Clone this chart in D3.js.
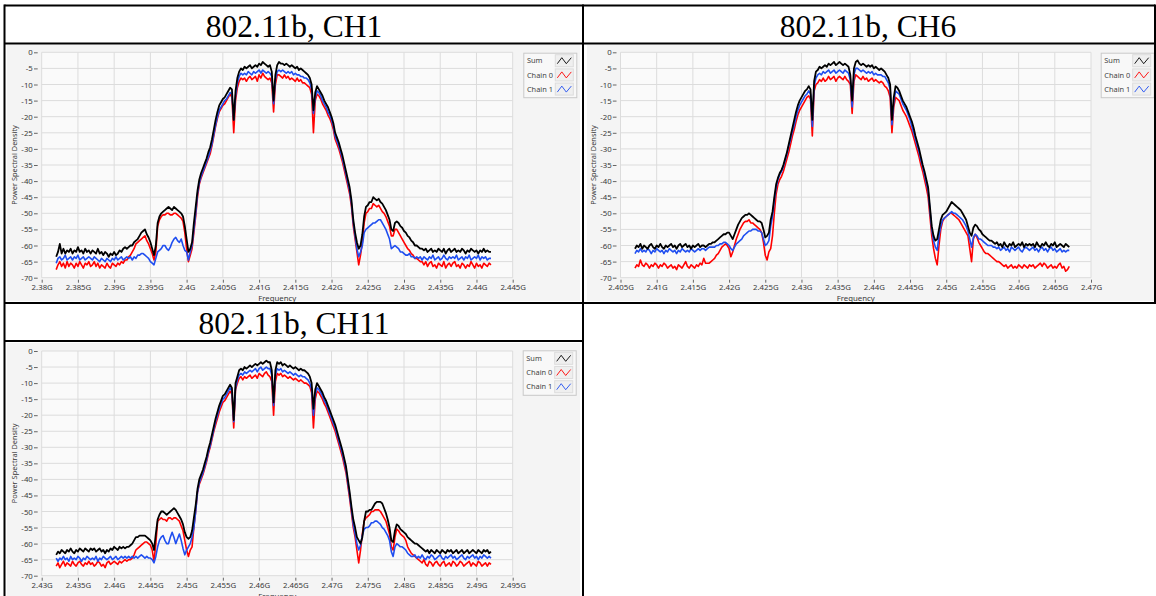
<!DOCTYPE html>
<html>
<head>
<meta charset="utf-8">
<script src="https://cdn.jsdelivr.net/npm/d3@7"></script>
<style>
  html, body { margin: 0; padding: 0; background: #ffffff; }
  svg { display: block; }
</style>
</head>
<body>
<svg id="page" width="1156" height="596"></svg>
<script>
// ---------------------------------------------------------------
// Spectrum sweeps of 802.11b transmissions on channels 1, 6 and 11.
// Each sweep is sampled on a 0.25 MHz bin grid starting at the
// frequency listed in sweepStartMHz; values are PSD in dB.
// ---------------------------------------------------------------
const titles = ["802.11b, CH1", "802.11b, CH6", "802.11b, CH11"];
const seriesNames = ["Sum", "Chain 0", "Chain 1"];
const seriesColors = ["#000000", "#ff0000", "#1f4ef0"];
const yTicks = [0, -5, -10, -15, -20, -25, -30, -35, -40, -45, -50, -55, -60, -65, -70];
const ch1FreqTicks = [2.380, 2.385, 2.390, 2.395, 2.400, 2.405, 2.410, 2.415, 2.420, 2.425, 2.430, 2.435, 2.440, 2.445];
const ch6FreqTicks = [2.405, 2.410, 2.415, 2.420, 2.425, 2.430, 2.435, 2.440, 2.445, 2.450, 2.455, 2.460, 2.465, 2.470];
const ch11FreqTicks = [2.430, 2.435, 2.440, 2.445, 2.450, 2.455, 2.460, 2.465, 2.470, 2.475, 2.480, 2.485, 2.490, 2.495];
const sweepStartMHz = [2382, 2407, 2432];
const binWidthMHz = 0.25;

const ch1Sum = [
-63.5,-62,-59.5,-62.5,-61,-62.5,-61.5,-62,-61,-62.5,-61.5,-62,-60.5,-62,-61.5,-62.5,-61,-62,-61.5,-62.5,
-61.5,-62,-62.5,-61,-62.5,-62,-63,-62,-62.5,-63.5,-62.5,-63,-62,-63,-62.5,-61.5,-62,-61,-60.5,-61,
-60.5,-60,-60,-59,-58.5,-58,-57,-56,-55.5,-55,-56.5,-57.5,-59,-61,-63,-60,-53,-51,-50,-49.5,
-49,-48.5,-48,-48.5,-49,-48,-48.5,-49,-49.5,-50,-51,-54,-58,-62,-61,-59,-53,-48,-43,-39.5,
-37.5,-36,-34.5,-33,-31,-29.5,-27,-24,-21,-18.5,-16.5,-15.5,-14.5,-14,-13,-12,-11,-11.5,-21,-12,
-8,-6,-5,-5.5,-4.5,-5,-4.5,-4,-5,-4.5,-4,-4.5,-3.5,-4,-3,-3.5,-4,-4.5,-4,-6,
-15,-7,-4,-3,-3.5,-3.5,-4,-3.5,-4,-4.5,-4,-4.5,-5,-4.5,-5.5,-5,-5.5,-6,-6.5,-7,
-8,-10,-18,-12.5,-10.5,-11.5,-12.5,-13.5,-15,-16,-17,-18.5,-20,-22,-25,-26.5,-28,-30,-32,-34.5,
-37,-39.5,-42,-46,-52,-56,-59,-61,-60,-56.5,-51,-48,-47.5,-46.5,-46.5,-45,-45.5,-46,-45.5,-46.5,
-47,-48,-49,-50.5,-52,-55,-55.5,-53,-52.5,-53,-54,-54.5,-55.5,-56,-57,-57.5,-58.5,-59,-60,-60,
-60.5,-61,-61,-61.5,-61,-62,-61.5,-61,-62,-61.5,-62,-61,-61.5,-62,-61,-62.5,-61.5,-61,-62,-61.5,
-61,-62,-61.5,-62,-61,-61.5,-62.5,-61.5,-62,-61,-61.5,-62,-61.5,-62.5,-61.5,-62,-61,-62,-61.5,-62,
-62];
const ch1Chain0 = [
-67.5,-66,-65,-66.5,-65.5,-67,-65,-66.5,-65.5,-66,-67,-65.5,-66.5,-65,-66,-67,-65.5,-66,-65,-66.5,
-66,-65,-66.5,-65.5,-67,-66,-66.5,-67,-65.5,-66.5,-67,-65.5,-66,-66.5,-65.5,-66,-65,-65.5,-64.5,-64.5,
-63.5,-63,-62,-61,-59.5,-59,-58.5,-58,-57.5,-57,-58.5,-59.5,-61,-62.5,-64.5,-62,-54,-52,-51,-50.5,
-50.5,-50,-50,-50.5,-50.5,-50,-50,-50.5,-51,-51.5,-52.5,-56,-61,-65,-63,-61,-56,-51,-45,-41,
-39,-37.5,-36,-34.5,-33,-31.5,-29,-26,-23,-20.5,-18.5,-17.5,-16.5,-16,-15,-14,-13,-14,-25,-15,
-11,-9,-8,-8.5,-8,-9,-8,-7.5,-8.5,-8,-7.5,-9,-7,-8,-6.5,-7.5,-8,-8.5,-8,-9.5,
-18.5,-10,-7,-7,-7.5,-8,-7,-8,-7.5,-8.5,-8,-8.5,-9,-8,-9,-8.5,-9.5,-9.5,-10,-10.5,
-11,-13,-25,-15,-13,-13.5,-14.5,-16,-17,-18,-19.5,-20.5,-22,-24,-27,-28.5,-30,-32,-34,-36.5,
-39,-41.5,-44,-48,-54,-58,-62,-66,-63,-59,-53,-50,-49.5,-48.5,-48.5,-47,-47.5,-48,-47.5,-48.5,
-49.5,-50,-51,-52.5,-54,-57,-57,-55,-55,-56,-57,-58,-59,-60,-61,-61.5,-62.5,-63,-64,-64,
-64.5,-65,-65,-66,-65,-66.5,-65.5,-65,-66.5,-66,-67,-65.5,-66,-66.5,-65,-67,-66,-65.5,-66.5,-65.5,
-65,-66.5,-66,-67,-65.5,-66,-67,-66,-66.5,-65,-66,-67,-65.5,-66.5,-66,-67,-65.5,-66,-66.5,-65.5,
-66];
const ch1Chain1 = [
-65.5,-64,-63.5,-64.5,-64,-63,-64.5,-64,-63.5,-64.5,-63.5,-64,-63,-64.5,-64,-63.5,-64.5,-64,-63.5,-64,
-64.5,-63.5,-64,-64.5,-65,-64,-64.5,-65,-64,-64.5,-65,-64,-64.5,-63.5,-64.5,-64,-63.5,-64.5,-64,-63.5,
-64,-63.5,-64.5,-63.5,-64,-63,-63,-62.5,-62.5,-63,-63.5,-64,-65,-65.5,-66,-64,-62,-61.5,-61,-60,
-60,-61,-61.5,-60.5,-59,-58,-57.5,-58.5,-59,-58,-60,-61.5,-62,-64.5,-62,-60,-55,-50,-44,-40.5,
-38.5,-37,-35.5,-34,-32.5,-30.5,-28.5,-25.5,-22.5,-20,-18,-17,-16,-15,-14.5,-13.5,-12.5,-13,-21,-13.5,
-9.5,-7.5,-6.5,-7,-6.5,-7,-6,-6.5,-7,-6,-6.5,-6,-5.5,-6.5,-5.5,-6,-6.5,-6,-6.5,-7.5,
-16,-8.5,-6,-5.5,-6,-5.5,-6,-6.5,-6,-6.5,-6,-7,-6.5,-7,-7,-7.5,-7.5,-8,-8,-8.5,
-9.5,-11.5,-19,-14,-12,-12.5,-13.5,-15,-16,-17,-18.5,-19.5,-21,-23,-26,-27.5,-29,-31,-33,-35.5,
-38,-40.5,-43,-47,-53,-57,-61,-63.5,-62,-60,-56,-55,-54.5,-54,-53.5,-53,-53,-52.5,-52,-52,
-53,-54,-55,-56.5,-58,-61,-60.5,-60,-60.5,-61,-62,-62,-62.5,-63,-63,-62.5,-63.5,-63.5,-64,-63.5,
-64,-63.5,-64.5,-63.5,-64,-64.5,-63.5,-64,-63,-64.5,-64,-63.5,-64.5,-64,-63,-64,-64.5,-63.5,-64,-63.5,
-64,-63,-64.5,-64,-63.5,-64.5,-63.5,-64,-63,-64.5,-64,-63.5,-64,-63,-64.5,-63.5,-64,-63.5,-64.5,-64,
-64];

const ch6Sum = [
-61,-60,-60.5,-59.5,-61,-60,-60.5,-61,-60,-59.5,-60.5,-61,-60,-60.5,-59.5,-60.5,-61,-60,-60.5,-60,
-59.5,-60.5,-60,-61,-60,-59.5,-60.5,-60,-59.5,-60.5,-60,-61,-60,-60.5,-60,-59.5,-60.5,-60,-60,-60.5,
-60,-59.5,-59.5,-59,-59,-58.5,-58,-57.5,-57,-56.5,-56.5,-56,-56,-57,-58,-56.5,-55,-53.5,-52.5,-51.5,
-51,-50.5,-50.5,-50,-50.5,-51,-51.5,-52,-52.5,-52.5,-53,-55,-57.5,-57,-56,-52,-49.5,-45,-41,-39,
-37.5,-36.5,-35,-33,-31,-28.5,-26,-23.5,-21,-18.5,-16.5,-15,-14,-13,-12,-11.5,-10.5,-11.5,-21,-9,
-6,-5.5,-4.5,-5,-4.5,-4,-4.5,-3.5,-4,-3.5,-3,-4,-3.5,-3,-3.5,-4,-3.5,-4,-4.5,-7,
-15,-5,-3,-2.5,-3.5,-4,-3.5,-4,-4.5,-4,-4.5,-4,-5,-4.5,-5,-5.5,-5,-5.5,-6,-7,
-8,-10,-21,-14,-10.5,-11,-12,-13.5,-15,-16,-17,-18.5,-20,-21.5,-23.5,-26,-28,-30,-32.5,-35,
-37,-39.5,-42,-48,-54,-57,-58.5,-58,-55,-52,-50.5,-50,-49.5,-48.5,-47.5,-46.5,-47,-47.5,-48,-48.5,
-49,-50,-51,-52,-54,-56,-57,-54.5,-53.5,-54,-55,-55.5,-56.5,-57,-57.5,-58,-58.5,-58.5,-59,-59.5,
-59,-60,-59.5,-60.5,-59,-60,-60.5,-59.5,-60,-59,-60.5,-60,-59.5,-60,-59,-60.5,-59.5,-60,-59.5,-60,
-59.5,-60.5,-59,-60,-60.5,-59.5,-60,-59,-60,-60.5,-59.5,-60,-59,-60.5,-60,-59.5,-60,-60.5,-59.5,-60,
-60.5];
const ch6Chain0 = [
-67,-66,-66.5,-64.5,-66,-66.5,-65.5,-66,-67,-66,-66.5,-65.5,-66,-67,-66,-66.5,-65.5,-66,-67,-66.5,
-66,-67,-66.5,-67.5,-66,-66.5,-67,-66,-65,-66.5,-67,-66,-66.5,-67,-66,-66.5,-65.5,-66,-64,-65.5,
-65.5,-65.5,-65,-64.5,-64,-63,-62.5,-61.5,-60.5,-60,-59.5,-60,-61,-63.5,-62,-60,-58,-56.5,-55,-54,
-53,-52.5,-52.5,-52,-53,-53,-53.5,-54,-54.5,-55,-56,-59,-63,-64.5,-62,-61,-57,-50,-44,-41,
-39.5,-38.5,-37,-35,-33,-31,-28.5,-26,-24,-21.5,-19.5,-18,-17,-16,-15,-14,-13.5,-14.5,-26,-12,
-10,-9.5,-8.5,-9,-8,-9,-8.5,-7.5,-8.5,-8,-7.5,-9,-8,-7.5,-8,-8.5,-7.5,-8.5,-9,-10,
-19,-9,-7,-7.5,-8,-8.5,-7.5,-8.5,-8,-9,-8.5,-8,-9,-8.5,-9,-9.5,-9,-9.5,-10.5,-11,
-12,-14,-25,-17,-14,-14.5,-15,-16.5,-18,-19,-20,-21.5,-23,-24.5,-26.5,-28.5,-30.5,-32.5,-35,-37,
-39.5,-42,-45,-51,-57,-61,-64,-66,-60,-55,-52.5,-51.5,-51,-50.5,-50,-50,-50.5,-51,-51.5,-52,
-53,-54,-55,-56,-57,-61,-65,-58,-56.5,-57.5,-59,-60,-61,-62,-62.5,-62.5,-63,-63.5,-64,-64.5,
-65,-65,-65.5,-66,-66.5,-66,-67,-66.5,-66,-67,-66.5,-67,-66,-66.5,-67,-66,-66.5,-67,-66,-66.5,
-66,-67,-66.5,-66,-65.5,-66.5,-65.5,-66,-67,-66.5,-66,-67,-66.5,-67,-66,-65.5,-67,-66.5,-68,-67.5,
-66.5];
const ch6Chain1 = [
-62.5,-61.5,-62,-61,-62,-61.5,-62,-61,-61.5,-62.5,-61.5,-62,-61,-61.5,-62,-61.5,-62.5,-61.5,-62,-61,
-61.5,-62,-61.5,-62.5,-61.5,-62,-61,-61.5,-62,-61.5,-62,-61,-61.5,-62,-61.5,-61,-61.5,-61,-61,-61.5,
-61,-60.5,-60.5,-60.5,-60.5,-60,-60,-59.5,-59.5,-59,-59,-59.5,-60,-61,-61.5,-60.5,-59.5,-59,-58.5,-58,
-57,-56.5,-56,-55.5,-55.5,-55,-55,-55,-55.5,-55.5,-56,-58,-60,-59.5,-58.5,-54,-51,-46,-42,-39.5,
-38,-37,-35.5,-33.5,-31.5,-29,-27,-24.5,-22.5,-20,-18,-16.5,-15.5,-14.5,-13.5,-13,-12,-13,-23,-10.5,
-8,-7,-6.5,-7,-6,-6.5,-6,-5.5,-6.5,-6,-5.5,-6.5,-6,-5.5,-6,-6.5,-5.5,-6,-6.5,-8.5,
-17,-7,-5,-5,-5.5,-6,-5.5,-6,-6.5,-6,-6.5,-6,-7,-6.5,-7,-7,-7,-7.5,-7.5,-8.5,
-9.5,-11.5,-22.5,-15.5,-12,-12.5,-13,-14.5,-16,-17,-18,-19.5,-21,-23,-25,-27,-29,-31,-33.5,-35.5,
-38,-40.5,-43,-49,-55,-58.5,-60.5,-61.5,-57,-54,-52,-51.5,-51,-50.5,-50,-49.5,-50,-50,-50.5,-51,
-51.5,-52,-53,-54,-55.5,-58,-60.5,-57.5,-56.5,-57,-58,-58,-58.5,-59,-59.5,-60,-60,-60,-60.5,-60.5,
-61,-60.5,-61.5,-61,-60.5,-61.5,-61,-62,-60.5,-61,-61.5,-61,-60.5,-61.5,-62,-61,-60.5,-61,-61.5,-61,
-60.5,-61.5,-61,-62,-61,-60.5,-61.5,-61,-62,-61,-60.5,-61.5,-61,-62,-61.5,-61,-62,-61.5,-62,-61.5,
-61.5];

const ch11Sum = [
-63.5,-62.5,-63,-62,-62.5,-63,-62,-62.5,-61.5,-62.5,-63,-62,-62.5,-61.5,-62,-62.5,-61.5,-62,-62.5,-61.5,
-62,-61.5,-62.5,-62,-61.5,-62.5,-62,-63,-62,-62.5,-61.5,-62,-61,-61.5,-62,-61,-61.5,-61,-61.5,-61,
-61,-60.5,-60,-59,-58,-58,-57.5,-57.5,-57.5,-57.5,-58,-58.5,-59,-60,-62,-57,-52.5,-51,-50,-50,
-50.5,-51,-50.5,-50,-49.5,-49,-49.5,-50.5,-51.5,-52.5,-54,-56.5,-58,-58.5,-58,-56,-52,-48,-43,-40,
-38.5,-37,-35,-33,-30.5,-28.5,-26,-23.5,-21,-19,-17,-15.5,-14,-13.5,-12.5,-11.5,-10.5,-11.5,-21.5,-10,
-8,-6,-5.5,-6,-5,-5.5,-5,-4.5,-5,-4.5,-4,-4.5,-4,-3.5,-4,-3.5,-3,-3.5,-3.5,-6,
-16,-6,-3.5,-4,-3.5,-4.5,-4,-4.5,-5,-4.5,-5,-5.5,-5,-5.5,-6,-5.5,-6,-6,-6.5,-7,
-8,-10,-18,-12,-10,-11,-12,-13,-14.5,-15.5,-17,-18.5,-20,-21.5,-23,-25,-27,-29,-31,-33.5,
-36,-40,-44,-48.5,-52.5,-55,-58,-59,-60,-58,-53,-50,-50,-49.5,-49.5,-48.5,-47.5,-47,-47,-47,
-47.5,-49,-50.5,-52.5,-55,-59,-59.5,-56,-54,-54.5,-55.5,-56,-56.5,-57,-58,-58.5,-59,-59.5,-60,-60,
-60.5,-61,-61.5,-62,-62.5,-62,-63,-62,-62.5,-63,-62,-62.5,-63,-62,-62.5,-63,-62,-62.5,-62,-63,
-62.5,-62,-63,-62.5,-62,-63,-62.5,-62,-63,-62.5,-62,-62.5,-63,-62,-62.5,-63,-62,-62.5,-62,-63,
-62.5];
const ch11Chain0 = [
-67,-66,-67.5,-66.5,-65.5,-67,-66,-66.5,-67,-65.5,-66.5,-67,-66,-65.5,-66.5,-67,-66,-66.5,-65.5,-66.5,
-66,-67,-66.5,-65.5,-66,-67,-66.5,-67.5,-66,-65.5,-66.5,-66,-65.5,-66,-66.5,-65.5,-66,-65.5,-65,-65.5,
-65,-65,-64.5,-63.5,-62,-61.5,-61,-60.5,-60,-59.5,-59.5,-60,-60.5,-62,-65.5,-60,-53,-52.5,-52,-52.5,
-52.5,-53,-52,-52,-52.5,-52,-52,-52.5,-53,-54.5,-56,-59,-62,-64,-62,-61,-55,-50,-44,-41.5,
-40,-38.5,-36.5,-34.5,-32,-30,-27.5,-25,-23,-21,-19,-17.5,-16,-15.5,-14.5,-13.5,-12.5,-13.5,-24,-12,
-10,-8.5,-8,-9,-8,-8.5,-8,-7.5,-8.5,-8,-7.5,-8.5,-7,-7.5,-8,-7,-6.5,-7.5,-8,-9.5,
-20,-9.5,-7,-7.5,-7,-8,-7.5,-8,-8.5,-8,-8.5,-9,-8.5,-9,-9.5,-9,-9.5,-10,-10,-10.5,
-11,-13,-24,-15,-12.5,-13,-14,-15,-16.5,-17.5,-19,-20.5,-22,-23.5,-25,-27,-29,-31,-33,-35.5,
-38,-42,-46,-50.5,-55,-58,-62,-66,-62,-57,-53,-52,-51.5,-51,-50,-50,-49.5,-49.5,-49.5,-50,
-51,-52,-53,-55,-57,-61,-62,-58,-55.5,-56,-57,-57.5,-58,-59,-61,-62,-63,-63.5,-64,-64.5,
-65,-65.5,-66,-65,-66.5,-67,-65.5,-66,-67,-66,-65.5,-66.5,-67,-66,-65.5,-67,-66.5,-66,-67,-65.5,
-66,-67,-66.5,-65.5,-66,-67,-66.5,-66,-65.5,-67,-66,-66.5,-67,-65.5,-66,-67,-66.5,-66,-67,-66,
-66.5];
const ch11Chain1 = [
-64.5,-65.5,-64.5,-65,-64,-65,-64.5,-65.5,-64,-65,-64.5,-65,-64,-64.5,-65.5,-64.5,-65,-64,-64.5,-65,
-64.5,-65,-64,-65.5,-64.5,-65,-64,-64.5,-65,-64.5,-64,-65,-64.5,-64,-65,-64.5,-64,-64.5,-64,-64.5,
-64,-64.5,-64,-64.5,-64,-64.5,-64,-63.5,-64,-64.5,-64,-64.5,-64.5,-65,-66,-64,-61,-59,-58,-57.5,
-59,-60,-60,-58,-56.5,-58,-60,-58.5,-57,-59,-61.5,-63.5,-62,-61,-60,-58,-55,-50,-44,-41,
-39.5,-38,-36,-34,-31.5,-29.5,-27,-24.5,-22,-20,-18,-16.5,-15,-14.5,-13.5,-12.5,-11.5,-12.5,-22,-11.5,
-9,-7.5,-7,-7.5,-6.5,-7,-6.5,-6,-6.5,-6,-5.5,-6.5,-5.5,-5,-6,-5.5,-5,-5.5,-5.5,-7.5,
-17,-7.5,-5.5,-6,-5.5,-6.5,-6,-6.5,-7,-6.5,-7,-7.5,-7,-7.5,-8,-7.5,-8,-8,-8.5,-9,
-10,-12,-20,-13.5,-11.5,-12,-13,-14,-15.5,-16.5,-18,-19.5,-21,-22.5,-24,-26,-28,-30,-32,-34.5,
-37,-41,-45,-49.5,-54,-57,-60,-62,-60.5,-57.5,-55.5,-55,-55,-54.5,-53.5,-53.5,-53,-53,-53.5,-54,
-55,-55.5,-56.5,-57.5,-59,-62.5,-64,-61,-60,-60.5,-61,-61,-61.5,-62,-63,-63.5,-64,-64,-63.5,-64.5,
-64,-64.5,-63.5,-64.5,-65,-64,-64.5,-63.5,-64,-65,-64.5,-64,-63.5,-64.5,-65,-64,-64.5,-64,-63.5,-64.5,
-64,-65,-64.5,-64,-63.5,-64.5,-65,-64,-64.5,-64,-63.5,-64.5,-64,-65,-64,-64.5,-63.5,-64,-64.5,-64,
-64.5];

// ---------------------------------------------------------------
// Page layout
// ---------------------------------------------------------------
const svg = d3.select("#page");
const FONT_UI = "'Noto Sans', 'Open Sans', sans-serif";
const FONT_TITLE = "'Liberation Serif', 'DejaVu Serif', serif";

const panels = [
  {
    title: titles[0], titleX: 294, titleY: 36.7,
    box: [7, 45, 573, 256],
    plot: { l: 41.7, r: 512.7, t: 52.3, b: 277.7 },
    legend: [523.3, 52.7],
    ticks: ch1FreqTicks, start: sweepStartMHz[0],
    series: [ch1Sum, ch1Chain0, ch1Chain1]
  },
  {
    title: titles[1], titleX: 868, titleY: 36.7,
    box: [587, 45, 569, 256],
    plot: { l: 620.5, r: 1091, t: 52.3, b: 277.7 },
    legend: [1100.7, 52.7],
    ticks: ch6FreqTicks, start: sweepStartMHz[1],
    series: [ch6Sum, ch6Chain0, ch6Chain1]
  },
  {
    title: titles[2], titleX: 294, titleY: 334.2,
    box: [7, 343, 573, 260],
    plot: { l: 41.7, r: 512.7, t: 351, b: 575.7 },
    legend: [522.7, 350.3],
    ticks: ch11FreqTicks, start: sweepStartMHz[2],
    series: [ch11Sum, ch11Chain0, ch11Chain1]
  }
];

const freqFormat = d => d3.format(".3~f")(d) + "G";

panels.forEach(p => {
  const g = svg.append("g");

  // panel background
  g.append("rect")
    .attr("x", p.box[0]).attr("y", p.box[1])
    .attr("width", p.box[2]).attr("height", p.box[3])
    .attr("fill", "#f4f4f4");

  const x = d3.scaleLinear()
    .domain([p.ticks[0], p.ticks[p.ticks.length - 1]])
    .range([p.plot.l, p.plot.r]);
  const y = d3.scaleLinear().domain([-70, 0]).range([p.plot.b, p.plot.t]);

  // plot area
  g.append("rect")
    .attr("x", p.plot.l).attr("y", p.plot.t)
    .attr("width", p.plot.r - p.plot.l).attr("height", p.plot.b - p.plot.t)
    .attr("fill", "#fafafa");

  // grid
  g.append("g").selectAll("line").data(yTicks).join("line")
    .attr("x1", p.plot.l).attr("x2", p.plot.r)
    .attr("y1", d => y(d)).attr("y2", d => y(d))
    .attr("stroke", "#dcdcdc").attr("stroke-width", 1);
  g.append("g").selectAll("line").data(p.ticks).join("line")
    .attr("x1", d => x(d)).attr("x2", d => x(d))
    .attr("y1", p.plot.t).attr("y2", p.plot.b)
    .attr("stroke", "#dcdcdc").attr("stroke-width", 1);

  // axes
  const yAxis = d3.axisLeft(y).tickValues(yTicks).tickSize(3.7).tickPadding(1.2)
    .tickFormat(d => String(d));
  const ya = g.append("g").attr("transform", `translate(${p.plot.l - 4},0)`).call(yAxis);
  const xAxis = d3.axisBottom(x).tickValues(p.ticks).tickSize(3).tickPadding(2)
    .tickFormat(freqFormat);
  const xa = g.append("g").attr("transform", `translate(0,${p.plot.b + 2})`).call(xAxis);
  [ya, xa].forEach(a => {
    a.select(".domain").remove();
    a.selectAll(".tick line").attr("stroke", "#666");
    a.selectAll(".tick text")
      .attr("font-family", FONT_UI).attr("font-size", 7.8).attr("fill", "#3a3a3a");
  });

  // axis titles
  g.append("text")
    .attr("transform", `translate(${p.plot.l - 24.5},${(p.plot.t + p.plot.b) / 2}) rotate(-90)`)
    .attr("text-anchor", "middle")
    .attr("font-family", FONT_UI).attr("font-size", 7.4).attr("fill", "#3a3a3a")
    .text("Power Spectral Density");
  g.append("text")
    .attr("x", (p.plot.l + p.plot.r) / 2).attr("y", p.plot.b + 23)
    .attr("text-anchor", "middle")
    .attr("font-family", FONT_UI).attr("font-size", 7.8).attr("fill", "#3a3a3a")
    .text("Frequency");

  // traces: Chain 0, then Chain 1, then Sum on top
  const line = d3.line()
    .x((v, i) => x((p.start + i * binWidthMHz) / 1000))
    .y(v => y(v));
  [1, 2, 0].forEach(k => {
    g.append("path")
      .attr("d", line(p.series[k]))
      .attr("fill", "none")
      .attr("stroke", seriesColors[k])
      .attr("stroke-width", k === 0 ? 1.8 : 1.6)
      .attr("stroke-linejoin", "round");
  });

  // legend
  const lg = g.append("g").attr("transform", `translate(${p.legend[0]},${p.legend[1]})`);
  lg.append("rect")
    .attr("x", 0.5).attr("y", 0.5).attr("width", 53).attr("height", 44.5)
    .attr("fill", "#f8f8f8").attr("stroke", "#c9c9c9");
  seriesNames.forEach((name, k) => {
    const cy = 8 + k * 14.2;
    lg.append("text")
      .attr("x", 3.6).attr("y", cy + 2.7)
      .attr("font-family", FONT_UI).attr("font-size", 7.4).attr("fill", "#444")
      .text(name);
    lg.append("rect")
      .attr("x", 32).attr("y", cy - 6).attr("width", 18).attr("height", 12)
      .attr("fill", "#efefef").attr("stroke", "#dddddd");
    lg.append("path")
      .attr("d", `M${34},${cy + 3} L${38.5},${cy - 3} L${43},${cy + 3} L${48},${cy - 3}`)
      .attr("fill", "none").attr("stroke", seriesColors[k]).attr("stroke-width", 0.9);
  });

  // cell heading
  svg.append("text")
    .attr("x", p.titleX).attr("y", p.titleY)
    .attr("text-anchor", "middle")
    .attr("font-family", FONT_TITLE).attr("font-size", 31.5).attr("fill", "#000")
    .text(p.title);
});

// table rules
const rules = [
  [4.5, 5.5, 1155, 5.5],
  [4.5, 43.5, 1155, 43.5],
  [4.5, 303, 1155, 303],
  [4.5, 341, 583, 341],
  [4.5, 4.5, 4.5, 600],
  [583, 4.5, 583, 600],
  [1155, 4.5, 1155, 304]
];
svg.append("g").selectAll("line").data(rules).join("line")
  .attr("x1", d => d[0]).attr("y1", d => d[1])
  .attr("x2", d => d[2]).attr("y2", d => d[3])
  .attr("stroke", "#000").attr("stroke-width", 2);
</script>
</body>
</html>
